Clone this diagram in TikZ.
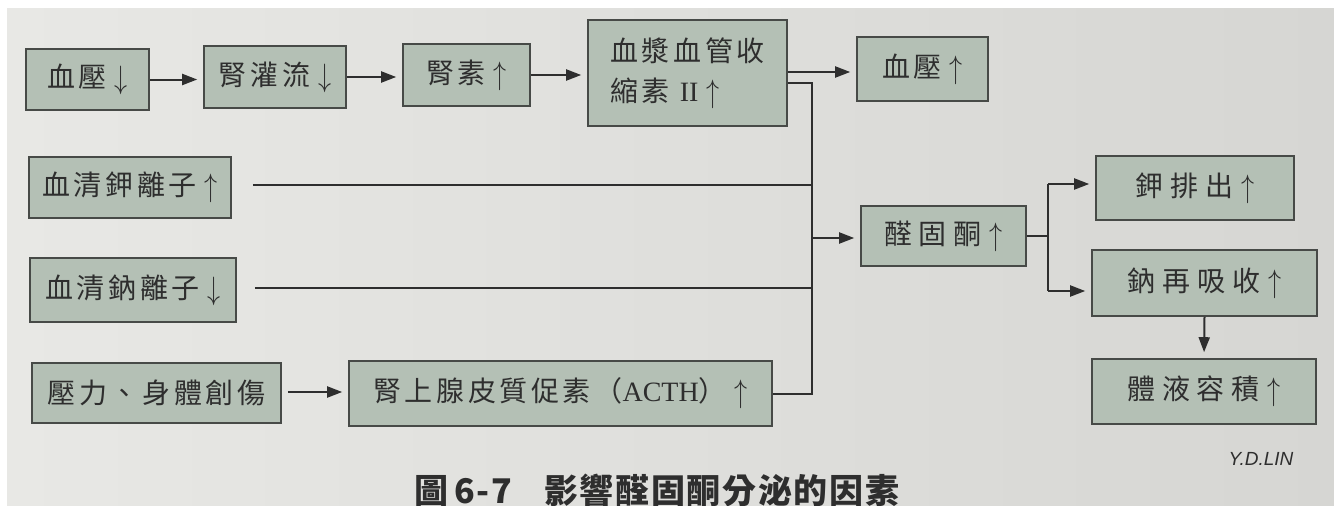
\documentclass[tikz,border=0pt]{standalone}
\usepackage{graphicx}
\usepackage{fontspec}
\setmainfont{Liberation Serif}
\newfontfamily\cjk[LetterSpace=13]{Noto Sans CJK TC}
\newfontfamily\cjkw[LetterSpace=24]{Noto Sans CJK TC}
\newfontfamily\figcap[LetterSpace=5]{Noto Sans CJK TC}
\newfontfamily\sigf{Liberation Sans}
\usetikzlibrary{arrows.meta,calc}
\definecolor{boxfill}{HTML}{B4C0B5}
\definecolor{boxline}{HTML}{474A47}
\definecolor{ink}{HTML}{2E2E2E}
\definecolor{pageL}{HTML}{E8E8E5}
\definecolor{pageR}{HTML}{D6D6D3}
\newcommand\uarr{\hspace{8pt}\raisebox{-1pt}{\scalebox{1.05}[1.3]{$\uparrow$}}}
\newcommand\darr{\hspace{8pt}\raisebox{-1pt}{\scalebox{1.05}[1.3]{$\downarrow$}}}
\begin{document}
\begin{tikzpicture}[x=1pt,y=-1pt,
  box/.style={draw=boxline, line width=1.6pt, fill=boxfill, inner sep=0pt, text=ink,
              font=\cjk\fontsize{28}{40}\selectfont},
  wbox/.style={box, font=\cjkw\fontsize{28}{40}\selectfont},
  arr/.style={draw=ink, line width=2pt, -{Triangle[length=15pt,width=11pt]}, shorten >=6pt},
  ln/.style={draw=ink, line width=2pt}]
\useasboundingbox (0,0) rectangle (1334,506);
\fill[white] (0,0) rectangle (1334,506);
\shade[left color=pageL, right color=pageR] (7,8) rectangle (1334,506);

% nodes
\node[box, minimum width=123pt, minimum height=61pt] (a) at (87.5,79.5) {血壓\darr};
\node[box, minimum width=142pt, minimum height=62pt] (b) at (275,77) {腎灌流\darr};
\node[box, minimum width=127pt, minimum height=62pt] (c) at (466.5,75) {腎素\uarr};
\node[box, minimum width=199pt, minimum height=106pt, align=left] (d) at (687.5,73) {血漿血管收\\縮素 {\rmfamily II}\uarr};
\node[box, minimum width=131pt, minimum height=64pt] (e) at (922.5,69) {血壓\uarr};
\node[box, minimum width=202pt, minimum height=61pt] (f) at (130,187.5) {血清鉀離子\uarr};
\node[box, minimum width=206pt, minimum height=64pt] (g) at (133,290) {血清鈉離子\darr};
\node[box, minimum width=249pt, minimum height=60pt] (h) at (156.5,393) {壓力、身體創傷};
\node[box, minimum width=423pt, minimum height=65pt] (i) at (560.5,393.5) {腎上腺皮質促素（{\rmfamily ACTH}）\uarr};
\node[wbox, minimum width=165pt, minimum height=60pt] (j) at (943.5,236) {醛固酮\uarr};
\node[wbox, minimum width=198pt, minimum height=64pt] (k) at (1195,188) {鉀排出\uarr};
\node[wbox, minimum width=225pt, minimum height=66pt] (l) at (1204.5,283) {鈉再吸收\uarr};
\node[wbox, minimum width=224pt, minimum height=65pt] (m) at (1204,391.5) {體液容積\uarr};

% coordinates
\coordinate (bt) at (812,83);
\coordinate (kt) at (1048,184);
\coordinate (lt) at (1048,291);
\coordinate (dout) at ($(d.east)+(0,-1)$);
\coordinate (fs) at ($(f.east)+(21,-2.5)$);
\coordinate (gs) at ($(g.east)+(18,-2)$);
\coordinate (jin) at ($(j.west)+(0,2)$);
\coordinate (hs) at ($(h.east)+(6,-1)$);

% connectors
\draw[arr] (a.east) -- (a.east -| b.west);
\draw[arr] (b.east) -- (b.east -| c.west);
\draw[arr] (c.east) -- (c.east -| d.west);
\draw[arr] (dout) -- (dout -| e.west);
\draw[ln] (d.east |- bt) -- (bt) -- (bt |- i.east) -- (i.east);
\draw[ln] (fs) -- (fs -| bt);
\draw[ln] (gs) -- (gs -| bt);
\draw[arr] (jin -| bt) -- (jin);
\draw[ln] (j.east) -- (j.east -| kt);
\draw[ln] (kt) -- (lt);
\draw[arr] (kt) -- (kt -| k.west);
\draw[arr] (lt) -- (lt -| l.west);
\draw[arr] (l.south) -- (m.north);
\draw[arr] (hs) -- (hs -| i.west);

% caption and signature
\node[anchor=base west, inner sep=0pt, text=ink, font=\figcap\bfseries\fontsize{34}{34}\selectfont] (cap) at (414,503) {圖\hspace{6pt}6-7\hspace{32pt}影響醛固酮分泌的因素};
\node[inner sep=0pt, text=ink, font=\sigf\itshape\fontsize{19}{19}\selectfont] (sig) at (1261,459) {Y.D.LIN};
\end{tikzpicture}
\end{document}
